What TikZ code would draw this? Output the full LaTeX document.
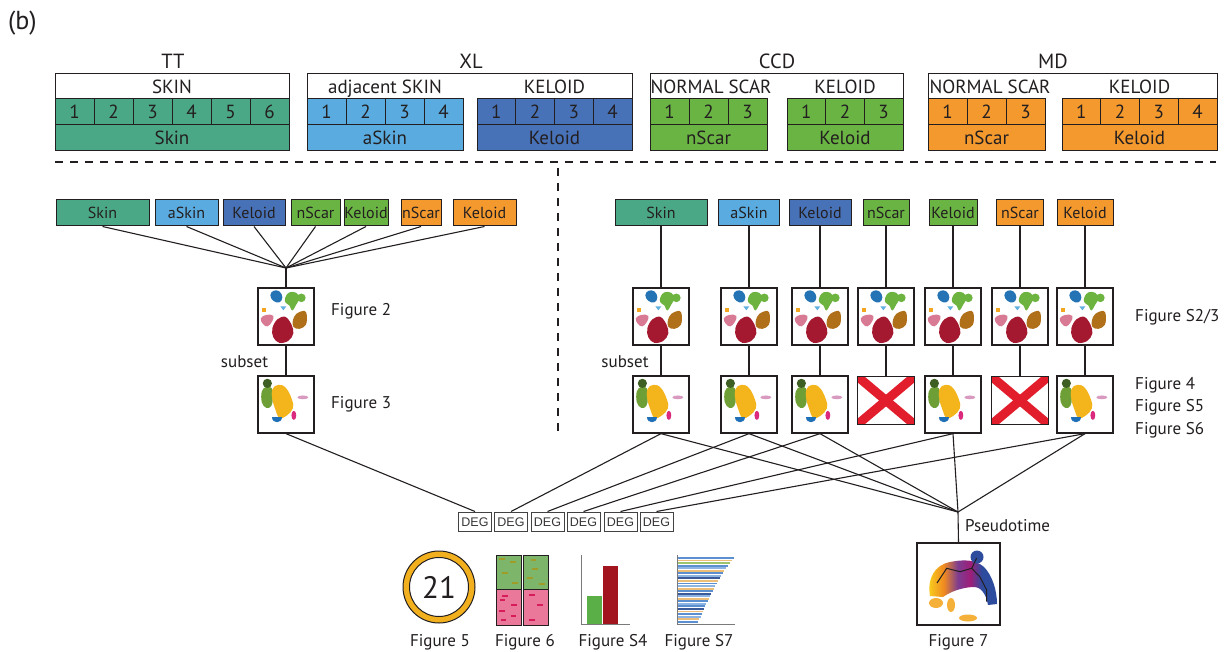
\documentclass[tikz,border=0pt]{standalone}
\usepackage{fontspec}
\setmainfont{PT Sans}
\newfontfamily\degfont{Liberation Sans}
\usetikzlibrary{calc}

% palette
\definecolor{ink}{RGB}{35,31,32}
\definecolor{cSkin}{RGB}{75,168,135}
\definecolor{cASkin}{RGB}{90,172,224}
\definecolor{cKel}{RGB}{72,114,184}
\definecolor{cGreen}{RGB}{106,180,68}
\definecolor{cOrange}{RGB}{243,153,46}
% cluster map colours
\definecolor{kBlue}{RGB}{36,116,181}
\definecolor{kGreen}{RGB}{108,179,63}
\definecolor{kLBlue}{RGB}{96,176,224}
\definecolor{kOrange}{RGB}{242,165,31}
\definecolor{kPink}{RGB}{216,122,148}
\definecolor{kRed}{RGB}{164,24,48}
\definecolor{kBrown}{RGB}{176,112,26}
\definecolor{kDGreen}{RGB}{62,95,35}
\definecolor{kMGreen}{RGB}{110,159,55}
\definecolor{kYellow}{RGB}{243,181,27}
\definecolor{kLPink}{RGB}{217,154,192}
\definecolor{kMagenta}{RGB}{219,42,125}
\definecolor{kCBlue}{RGB}{32,112,184}
\definecolor{xRed}{RGB}{226,30,45}
% summary figure colours
\definecolor{ringY}{RGB}{242,176,30}
\definecolor{hGreen}{RGB}{125,182,107}
\definecolor{hPink}{RGB}{233,120,155}
\definecolor{hOlive}{RGB}{160,156,40}
\definecolor{hMag}{RGB}{214,28,90}
\definecolor{barG}{RGB}{91,175,71}
\definecolor{barR}{RGB}{163,21,30}
\definecolor{sB}{RGB}{91,143,208}
\definecolor{sL}{RGB}{141,180,226}
\definecolor{sT}{RGB}{237,190,122}
\definecolor{sG}{RGB}{156,195,110}
\definecolor{sN}{RGB}{58,90,154}
\definecolor{tY}{RGB}{248,200,30}
\definecolor{tO}{RGB}{240,138,32}
\definecolor{tP}{RGB}{125,60,145}
\definecolor{tM}{RGB}{158,30,120}
\definecolor{tB}{RGB}{46,76,158}
\definecolor{tLO}{RGB}{245,176,58}

% the shading's middle band (25bp..75bp) spans the shaded path
\pgfdeclarehorizontalshading{trajshade}{100bp}{color(0bp)=(tY); color(27bp)=(tY); color(37bp)=(tO); color(47bp)=(tP); color(56bp)=(tM); color(64bp)=(tB); color(100bp)=(tB)}

% font sizes
\newcommand\fsBig{\fontsize{26}{28}\selectfont}
\newcommand\fsGrp{\fontsize{20.5}{22}\selectfont}
\newcommand\fsHdr{\fontsize{19}{21}\selectfont}
\newcommand\fsBox{\fontsize{16}{18}\selectfont}
\newcommand\fsLab{\fontsize{17}{19}\selectfont}
\newcommand\fsDeg{\degfont\fontsize{12.5}{14}\selectfont}
\newcommand\fsNum{\fontsize{31}{34}\selectfont}

\tikzset{
  hdr/.style={draw=ink, line width=1pt, inner sep=0pt, minimum height=26pt,
              text=ink, font=\fsHdr, text height=13pt, text depth=0pt},
  hline/.style={draw=ink, line width=1pt},
  htext/.style={font=\fsHdr, text=ink, inner sep=0pt, anchor=base},
  grp/.style={font=\fsGrp, text=ink, inner sep=0pt, anchor=base},
  sbox/.style={draw=ink, line width=1pt, inner sep=0pt, minimum height=26pt,
               text=ink, font=\fsBox, text height=11pt, text depth=0pt},
  thumb/.style={draw=ink, line width=1.3pt, fill=white, inner sep=0pt,
                minimum width=56pt, minimum height=57pt},
  xthumb/.style={inner sep=0pt, minimum width=57pt, minimum height=48pt},
  link/.style={draw=ink, line width=1.1pt},
  lab/.style={font=\fsLab, text=ink, inner sep=0pt},
  deg/.style={draw=ink!85, line width=1pt, fill=white, inner sep=0pt,
              minimum width=33pt, minimum height=19pt, font=\fsDeg, text=ink!90,
              text height=9pt, text depth=0pt},
  sepline/.style={draw=ink, line width=2pt, dash pattern=on 8pt off 7pt},
  clusterA/.pic={
    \fill[kBlue] plot[smooth cycle, tension=0.7] coordinates {(13,8) (16,3.5) (22,4) (25,10) (22,15) (16,13.5)};
    \fill[kGreen] plot[smooth cycle, tension=0.7] coordinates {(28,10) (32,5) (39,5.5) (42,11) (39,17) (35,23) (32,18) (28,15)};
    \fill[kGreen] (44,10.5) circle (4.3);
    \fill[kLBlue] (23,19) -- (29,19) -- (26,23) -- cycle;
    \fill[kOrange] (5,21) rectangle (9,25);
    \fill[kPink] plot[smooth cycle, tension=0.7] coordinates {(3.5,31) (9,27.5) (16,28.5) (14.5,34.5) (10,39) (5.5,36.5)};
    \fill[kRed] plot[smooth cycle, tension=0.6] coordinates {(15,41) (20,32) (28,29.5) (34,37) (36,46) (31,53.5) (22,55.5) (16,50)};
    \fill[kBrown] plot[smooth cycle, tension=0.6] coordinates {(35.5,33) (39,26.5) (47,23.5) (49.5,28) (48.5,37.5) (42,41.5) (36,39.5)};
  },
  clusterB/.pic={
    \fill[kMGreen] plot[smooth cycle, tension=0.7] coordinates {(4.5,16) (9,11.5) (14.5,13) (15.5,22) (14,30.5) (9,32.5) (4.5,27)};
    \fill[kDGreen] (10,8) circle (4.6);
    \fill[kYellow] plot[smooth cycle, tension=0.7] coordinates {(15,14) (21,9.5) (28.5,12.5) (34.5,24) (35.5,33) (29,40.5) (22,42.5) (18,34) (15,24)};
    \fill[kLPink] (45.5,22) ellipse (5.5 and 1.9);
    \fill[kMagenta] (36.5,40) ellipse (2.4 and 4.6);
    \fill[kCBlue] (14.5,42) -- (24.5,42) .. controls (24.5,49) and (14.5,49) .. cycle;
  }
}

% one coloured sample block: numbered cells above a name bar
\newcommand\HdrBlock[6]{%
  \pgfmathsetmacro\hcw{(#3-#2)/#4}%
  \foreach \k in {1,...,#4}{%
    \node[hdr, fill=#5, minimum width=\hcw pt] (#1-\k) at ({#2+(\k-0.5)*\hcw},112) {\k};
  }%
  \node[hdr, fill=#5, minimum width={#3-#2}] (#1-name) at ({(#2+#3)/2},138) {#6};
}

\begin{document}
\begin{tikzpicture}[x=1pt,y=-1pt]
\useasboundingbox (0,0) rectangle (1226,652);
\fill[white] (0,0) rectangle (1226,652);

\node[font=\fsBig, text=ink, anchor=base west, inner sep=0pt] (panel) at (8,30) {(b)};

% ---------------- data sets ----------------
\node[grp] (gTT) at (173,69) {TT};
\node[grp] (gXL) at (471,69) {XL};
\node[grp] (gCCD) at (777,69) {CCD};
\node[grp] (gMD) at (1053,69) {MD};

\draw[hline] (55,99) |- (289,74) -- (289,99);
\draw[hline] (307,99) |- (632,74) -- (632,99);
\draw[hline] (650,99) |- (903,74) -- (903,99);
\draw[hline] (928,99) |- (1217,74) -- (1217,99);

\node[htext] (hTT) at (172,94) {SKIN};
\node[htext] (hXLa) at (385,94) {adjacent SKIN};
\node[htext] (hXLk) at (554.5,94) {KELOID};
\node[htext] (hCCn) at (711,94) {NORMAL SCAR};
\node[htext] (hCCk) at (845,94) {KELOID};
\node[htext] (hMDn) at (990,94) {NORMAL SCAR};
\node[htext] (hMDk) at (1139.5,94) {KELOID};

\HdrBlock{tt}{55}{289}{6}{cSkin}{Skin}
\HdrBlock{xla}{307}{463}{4}{cASkin}{aSkin}
\HdrBlock{xlk}{477}{632}{4}{cKel}{Keloid}
\HdrBlock{ccn}{650}{767}{3}{cGreen}{nScar}
\HdrBlock{cck}{787}{903}{3}{cGreen}{Keloid}
\HdrBlock{mdn}{928}{1045}{3}{cOrange}{nScar}
\HdrBlock{mdk}{1062}{1217}{4}{cOrange}{Keloid}

\draw[sepline] (55,162) -- (1216,162);
\draw[sepline] (558,168) -- (558,432);

% ---------------- integrated analysis ----------------
\foreach \i/\xa/\xb/\cc/\tx in {1/56/149/cSkin/Skin, 2/155/218/cASkin/aSkin,
    3/223/285/cKel/Keloid, 4/291/340/cGreen/nScar, 5/344/388/cGreen/Keloid,
    6/401/441/cOrange/nScar, 7/453/516/cOrange/Keloid}{
  \node[sbox, fill=\cc, minimum width={\xb-\xa}] (lb\i) at ({(\xa+\xb)/2},213) {\tx};
}
\coordinate (hubL) at (286,268);
\foreach \i in {1,...,7}{ \draw[link] (lb\i.south) -- (hubL); }

\node[thumb] (lt2) at (286,316.5) {};
\pic at (lt2.north west) {clusterA};
\node[thumb] (lt3) at (286,404.5) {};
\pic at (lt3.north west) {clusterB};
\draw[link] (hubL) -- (lt2.north);
\draw[link] (lt2.south) -- (lt3.north);

\node[lab, anchor=base west] (fig2) at (331,316) {Figure 2};
\node[lab, anchor=base west] (fig3) at (331,408) {Figure 3};
\node[lab, anchor=base] (subL) at (244.5,367) {subset};

% ---------------- per-study analysis ----------------
\foreach \i/\xc/\ww/\cc/\tx in {1/661/92/cSkin/Skin, 2/749/61/cASkin/aSkin,
    3/820/62/cKel/Keloid, 4/886/46/cGreen/nScar, 5/953/48/cGreen/Keloid,
    6/1020/47/cOrange/nScar, 7/1085/56/cOrange/Keloid}{
  \node[sbox, fill=\cc, minimum width=\ww pt] (rb\i) at (\xc,213) {\tx};
  \node[thumb] (ra\i) at (\xc,316.5) {};
  \pic at (ra\i.north west) {clusterA};
  \draw[link] (rb\i.south) -- (ra\i.north);
}
\foreach \i/\xc in {1/661, 2/749, 3/820, 5/953, 7/1085}{
  \node[thumb] (rs\i) at (\xc,404.5) {};
  \pic at (rs\i.north west) {clusterB};
  \draw[link] (ra\i.south) -- (rs\i.north);
}
\foreach \i/\xc in {4/886, 6/1020}{
  \node[xthumb] (rs\i) at (\xc,400.5) {};
  \begin{scope}
    \clip (rs\i.north west) rectangle (rs\i.south east);
    \draw[xRed, line width=9pt] (rs\i.north west) -- (rs\i.south east);
    \draw[xRed, line width=9pt] (rs\i.north east) -- (rs\i.south west);
  \end{scope}
  \draw[ink, line width=1pt] (rs\i.north west) rectangle (rs\i.south east);
  \draw[link] (ra\i.south) -- (rs\i.north);
}

\node[lab, anchor=base west] (figS23) at (1135,322) {Figure S2/3};
\node[lab, anchor=base west] (fig4) at (1135,389) {Figure 4};
\node[lab, anchor=base west] (figS5) at (1135,411) {Figure S5};
\node[lab, anchor=base west] (figS6) at (1135,434) {Figure S6};
\node[lab, anchor=base] (subR) at (625,367) {subset};

% ---------------- downstream ----------------
\foreach \d/\x in {1/475, 2/511, 3/547.5, 4/583.5, 5/620.5, 6/656.5}{
  \node[deg] (deg\d) at (\x,521.5) {DEG};
}
\coordinate (hubR) at (958,512);
\draw[link] (lt3.south) -- (deg1.north);
\foreach \i/\d in {1/2, 2/3, 3/4, 5/5, 7/6}{
  \draw[link] (rs\i.south) -- (deg\d.north);
  \draw[link] (rs\i.south) -- (hubR);
}

\node[draw=ink, line width=1.3pt, inner sep=0pt, minimum width=83pt, minimum height=82pt] (f7) at (958.5,584) {};
\draw[link] (hubR) -- (f7.north);
\node[lab, anchor=base west] (pseudo) at (965,531) {Pseudotime};

% trajectory sketch
\shade[shading=trajshade] (930,596) .. controls (927,578) and (935,565) .. (950,562)
  .. controls (965,559) and (976,560) .. (984,567)
  .. controls (992,575) and (997,590) .. (997,604)
  -- (988,605) .. controls (986,594) and (981,586) .. (972,587)
  .. controls (960,588) and (950,592) .. (943,597) -- cycle;
\fill[tB] (977,557) circle (6.5);
\fill[tLO] (936,603) ellipse (7 and 5);
\fill[tLO] (951,605) ellipse (4 and 7);
\fill[tLO] (968,618) ellipse (9 and 3.5);
\draw[ink, line width=1pt] (937,583) -- (946.7,568.3) -- (960,571.7) -- (971.7,568.3) -- (976.7,558);
\draw[ink, line width=1pt] (971.7,568.3) -- (980,577) -- (986.7,590) -- (986.7,601.7);
\node[lab, anchor=base] (fig7) at (958.5,646) {Figure 7};

% overlap count
\node[inner sep=0pt, font=\fsNum, text=ink] (f5) at (439,587) {21};
\fill[ringY, even odd rule] (f5.center) circle (36) circle (29.5);
\draw[ink, line width=1pt] (f5.center) circle (36);
\draw[ink, line width=1pt] (f5.center) circle (29.5);
\node[lab, anchor=base] (fig5) at (440,646) {Figure 5};

% heat map
\node[draw=ink, line width=1pt, fill=hGreen, inner sep=0pt, minimum width=25.5pt, minimum height=34pt] (hGL) at (508.75,572) {};
\node[draw=ink, line width=1pt, fill=hGreen, inner sep=0pt, minimum width=25.5pt, minimum height=34pt] (hGR) at (535.75,572) {};
\node[draw=ink, line width=1pt, fill=hPink, inner sep=0pt, minimum width=25.5pt, minimum height=36pt] (hPL) at (508.75,607) {};
\node[draw=ink, line width=1pt, fill=hPink, inner sep=0pt, minimum width=25.5pt, minimum height=36pt] (hPR) at (535.75,607) {};
\foreach \x/\y in {501.7/559, 512.7/562.3, 505/572.7, 515/582.7, 533.3/560, 535/569, 530/578.3, 541.7/584}{
  \draw[hOlive, line width=1.7pt] (\x-2.8,\y) -- (\x+2.8,\y);
}
\foreach \x/\y in {505/596, 502.3/600, 514/605, 501.7/610.7, 513.3/616, 503.3/620, 531.7/595, 540/605, 531.7/620}{
  \draw[hMag, line width=1.7pt] (\x-2.8,\y) -- (\x+2.8,\y);
}
\node[lab, anchor=base] (fig6) at (525,646) {Figure 6};

% bar chart
\fill[barG] (587,596) rectangle (602,624);
\fill[barR] (603,566) rectangle (618,624);
\draw[ink!60, line width=1pt] (581,555) |- (630,624);
\node[lab, anchor=base] (figS4) at (613,646) {Figure S4};

% ranked bars
\foreach \n/\len/\cc in {0/57/sB, 1/55/sT, 2/53/sG, 3/51/sB, 4/49/sL, 5/47/sT, 6/46/sB, 7/44/sL,
    8/43/sN, 9/41/sT, 10/40/sB, 11/38/sL, 12/37/sT, 13/36/sB, 14/34/sN, 15/33/sL,
    16/32/sT, 17/31/sB, 18/29/sL, 19/28/sB, 20/27/sN, 21/26/sT, 22/25/sB, 23/24/sL, 24/22/sT, 25/21/sB}{
  \fill[\cc] (677,{557+\n*2.55}) rectangle ({677+\len},{558.9+\n*2.55});
}
\draw[ink!60, line width=1pt] (677,555) |- (735,624);
\node[lab, anchor=base] (figS7) at (699,646) {Figure S7};

\end{tikzpicture}
\end{document}
